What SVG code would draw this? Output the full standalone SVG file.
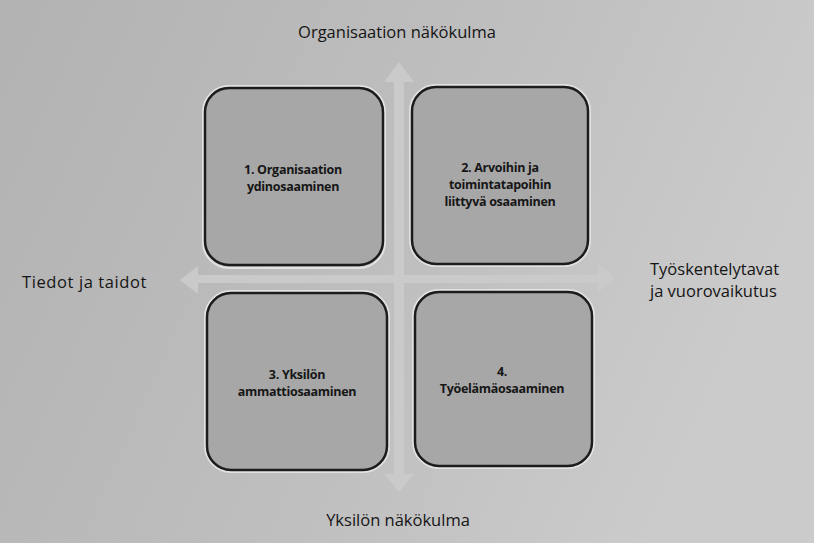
<svg xmlns="http://www.w3.org/2000/svg" width="814" height="543" viewBox="0 0 814 543">
<defs>
<linearGradient id="bg" x1="0" y1="0" x2="1" y2="0.3">
<stop offset="0" stop-color="#b2b2b2"/>
<stop offset="0.6" stop-color="#bfbfbf"/>
<stop offset="1" stop-color="#cbcbcb"/>
</linearGradient>
<style>
.box{fill:#a7a7a7;stroke:#1c1c1c;stroke-width:2.5}
.halo{fill:none;stroke:#e2e2e2;stroke-width:2}
.bt{font-family:"Open Sans","Liberation Sans",sans-serif;font-weight:bold;font-size:12.5px;fill:#161616;text-anchor:middle;letter-spacing:-0.3px}
.lt{font-family:"Open Sans","Liberation Sans",sans-serif;font-size:16.5px;fill:#151515}
.arrow{fill:#cacaca}
</style>
</defs>
<rect width="814" height="543" fill="url(#bg)"/>
<g id="connectors">
<polygon class="arrow" points="399,62 414,82 404,82 404,474 414,474 399,492 384,474 394,474 394,82 384,82"/>
<polygon class="arrow" points="180,280 198,266 198,275 598,275 598,264 616,278 598,292 598,283 198,283 198,294"/>
</g>
<g id="node1">
<rect class="halo" x="203" y="86" width="182" height="182" rx="26"/>
<rect class="box" x="205" y="88" width="178" height="177" rx="24"/>
<text class="bt" x="293" y="174">1. Organisaation</text>
<text class="bt" x="293" y="191">ydinosaaminen</text>
</g>
<g id="node2">
<rect class="halo" x="410" y="85" width="180" height="181" rx="26"/>
<rect class="box" x="412" y="87" width="176" height="177" rx="24"/>
<text class="bt" x="500" y="172">2. Arvoihin ja</text>
<text class="bt" x="500" y="189">toimintatapoihin</text>
<text class="bt" x="500" y="206">liittyvä osaaminen</text>
</g>
<g id="node3">
<rect class="halo" x="205" y="291" width="184" height="181" rx="26"/>
<rect class="box" x="207" y="293" width="180" height="177" rx="24"/>
<text class="bt" x="297" y="379">3. Yksilön</text>
<text class="bt" x="297" y="396">ammattiosaaminen</text>
</g>
<g id="node4">
<rect class="halo" x="413" y="290" width="181" height="178" rx="26"/>
<rect class="box" x="415" y="292" width="177" height="174" rx="24"/>
<text class="bt" x="502" y="376">4.</text>
<text class="bt" x="502" y="393">Työelämäosaaminen</text>
</g>
<g id="labels">
<text class="lt" x="397" y="38" text-anchor="middle">Organisaation näkökulma</text>
<text class="lt" x="398" y="526" text-anchor="middle">Yksilön näkökulma</text>
<text class="lt" x="22" y="288" letter-spacing="0.6">Tiedot ja taidot</text>
<text class="lt" x="650" y="275">Työskentelytavat</text>
<text class="lt" x="650" y="297">ja vuorovaikutus</text>
</g>
</svg>
